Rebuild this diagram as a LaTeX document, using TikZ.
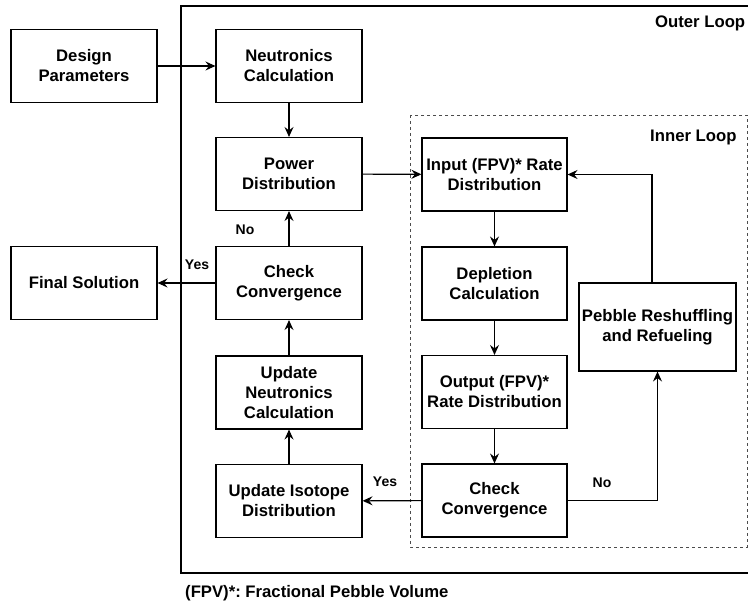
\documentclass[tikz,border=0pt]{standalone}
\usepackage{fontspec}
\setmainfont{Liberation Sans}
\usetikzlibrary{arrows.meta}
\frenchspacing
\begin{document}
\begin{tikzpicture}[x=1pt,y=-1pt,
  box/.style={draw, line width=1.1pt, fill=white, minimum width=146pt, minimum height=73pt,
    align=center, inner sep=0pt, font=\bfseries\fontsize{16.7}{20}\selectfont},
  arr/.style={-{Stealth[length=10pt,width=9pt,inset=3.5pt]}, line width=1.1pt},
  lbl/.style={font=\bfseries\fontsize{14}{16}\selectfont, inner sep=0pt},
  title/.style={font=\bfseries\fontsize{16.7}{20}\selectfont, inner sep=0pt}]
\clip (0,0) rectangle (748,601);
\fill[white] (0,0) rectangle (748,601);
% loops
\draw[line width=1.1pt] (181,6) rectangle (790,573);
\draw[line width=0.8pt, black!70, dash pattern=on 3pt off 3pt] (410,115) rectangle (747,547);
\node[title, anchor=west] (outerlbl) at (655,23) {Outer Loop};
\node[title, anchor=west] (innerlbl) at (650,137) {Inner Loop};
% outer column
\node[box] (design) at (84,66) {Design\\Parameters};
\node[box] (neut) at (289,66) {Neutronics\\Calculation};
\node[box] (power) at (289,174) {Power\\Distribution};
\node[box] (check) at (289,283) {Check\\Convergence};
\node[box] (final) at (84,283) {Final Solution};
\node[box] (updn) at (289,392.5) {Update\\Neutronics\\Calculation};
\node[box] (updi) at (289,501) {Update Isotope\\Distribution};
% inner column
\node[box, minimum width=145pt] (input) at (494.5,174.5) {Input (FPV)* Rate\\Distribution};
\node[box, minimum width=145pt] (depl) at (494.5,283.5) {Depletion\\Calculation};
\node[box, minimum width=145pt] (output) at (494.5,392) {Output (FPV)*\\Rate Distribution};
\node[box, minimum width=145pt] (check2) at (494.5,500.5) {Check\\Convergence};
\node[box, minimum width=157pt, minimum height=88pt] (pebble) at (657.5,327) {Pebble Reshuffling\\and Refueling};
% connectors
\draw[arr] (design) -- (neut);
\draw[arr] (neut) -- (power);
\draw[arr] (power) -- (input);
\draw[arr] (input) -- (depl);
\draw[arr] (depl) -- (output);
\draw[arr] (output) -- (check2);
\draw[arr] (check2) -- (updi);
\draw[arr] (check2.east) -| (pebble.south);
\draw[arr] ([xshift=-5.5pt]pebble.north) |- (input.east);
\draw[arr] (updi) -- (updn);
\draw[arr] (updn) -- (check);
\draw[arr] (check) -- (power);
\draw[arr] (check) -- (final);
% labels
\node[lbl] (yes1) at (197,265) {Yes};
\node[lbl] (no1) at (245,230) {No};
\node[lbl] (yes2) at (385,482) {Yes};
\node[lbl] (no2) at (602,483) {No};
\node[title, anchor=west] (foot) at (185,593) {(FPV)*: Fractional Pebble Volume};
\end{tikzpicture}
\end{document}
